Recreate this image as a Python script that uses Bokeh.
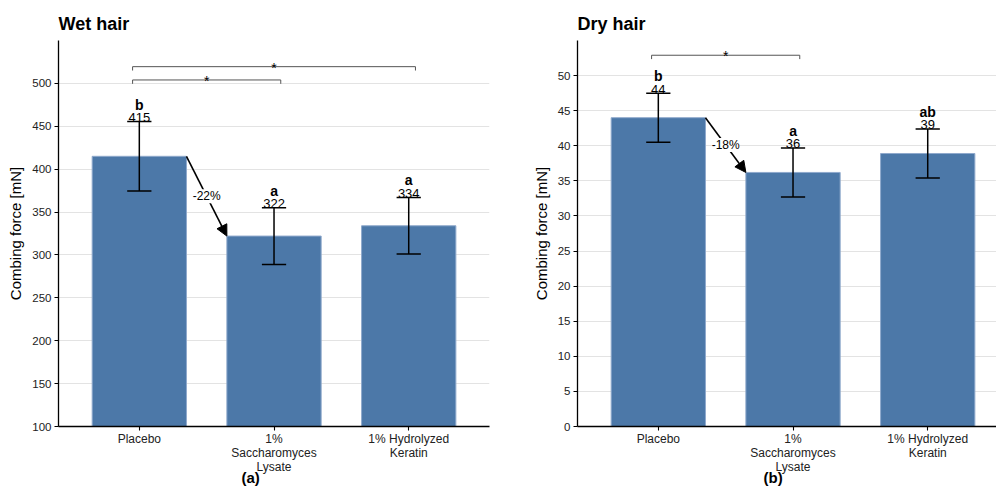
from bokeh.plotting import figure
from bokeh.layouts import row
from bokeh.models import ColumnDataSource, FixedTicker, Range1d, Label, Arrow, NormalHead, Title
from bokeh.core.properties import value
from bokeh.embed import file_html
from bokeh.resources import INLINE

# ---------------- data ----------------
categories = ["Placebo", "1% Saccharomyces Lysate", "1% Hydrolyzed Keratin"]
tick_labels = ["Placebo", "1%\nSaccharomyces\nLysate", "1% Hydrolyzed\nKeratin"]

wet_mean = [415, 322, 334]
wet_err = [40.5, 33, 33]
wet_letters = ["b", "a", "a"]
wet_sig_pairs = [(0, 1), (0, 2)]
wet_sig_y = [504, 519.5]
wet_sig_text = ["*", "*"]
wet_yticks = [100, 150, 200, 250, 300, 350, 400, 450, 500]
wet_yrange = (100, 550)

dry_mean = [44.0, 36.2, 38.9]
dry_err = [3.5, 3.5, 3.5]
dry_letters = ["b", "a", "ab"]
dry_sig_pairs = [(0, 1)]
dry_sig_y = [52.9]
dry_sig_text = ["*"]
dry_yticks = [0, 5, 10, 15, 20, 25, 30, 35, 40, 45, 50]
dry_yrange = (0, 55)

FONT = "Liberation Sans"
BAR = "#4C78A8"
PX_PER_UNIT = 134.7
H = 486


def panel(title, caption, mean, err, letters, sig_pairs, sig_y, sig_text,
          yr, yticks, W, mbl, mbr, cap_off):
    n = len(mean)
    xs = [i + 1 for i in range(n)]
    frame_w = W - mbl - mbr
    x_end = 0.4 + frame_w / PX_PER_UNIT
    p = figure(width=W, height=H, x_range=Range1d(0.4, x_end), y_range=Range1d(*yr),
               output_backend="svg", toolbar_location=None,
               min_border_left=mbl, min_border_right=mbr,
               min_border_top=40, min_border_bottom=60)
    p.outline_line_color = None
    p.background_fill_color = "white"
    p.border_fill_color = "white"

    p.title.text = title
    p.title.text_font = FONT
    p.title.text_font_size = "18px"
    p.title.text_font_style = "bold"
    p.title.text_color = "black"
    p.title.align = "left"
    p.title.standoff = 14

    src = ColumnDataSource(dict(
        x=xs, mean=mean,
        lower=[m - e for m, e in zip(mean, err)],
        upper=[m + e for m, e in zip(mean, err)],
        cl=[x - 0.09 for x in xs], cr=[x + 0.09 for x in xs],
        vlab=[f"{round(m)}" for m in mean],
        letter=letters,
    ))
    p.vbar(x="x", top="mean", bottom=0, width=0.7, source=src,
           fill_color=BAR, line_color="#8FA9CC", line_width=1)
    p.segment(x0="x", y0="lower", x1="x", y1="upper", source=src,
              line_color="black", line_width=1.5)
    p.segment(x0="cl", y0="upper", x1="cr", y1="upper", source=src,
              line_color="black", line_width=1.5)
    p.segment(x0="cl", y0="lower", x1="cr", y1="lower", source=src,
              line_color="black", line_width=1.5)
    p.text(x="x", y="upper", text="vlab", source=src, text_align="center",
           text_baseline="alphabetic", y_offset=-4, text_font=value(FONT),
           text_font_size="13px", text_color="black")
    p.text(x="x", y="upper", text="letter", source=src, text_align="center",
           text_baseline="alphabetic", y_offset=-17, text_font=value(FONT),
           text_font_size="14px", text_font_style="bold", text_color="black")

    # significance brackets
    tip = 0.01 * (yr[1] - yr[0])
    bx0, bx1, by, tx, tt = [], [], [], [], []
    for (i, j), yv, s in zip(sig_pairs, sig_y, sig_text):
        bx0.append(xs[i] - 0.05)
        bx1.append(xs[j] + 0.05)
        by.append(yv)
        tx.append((xs[i] + xs[j]) / 2)
        tt.append(s)
    bsrc = ColumnDataSource(dict(x0=bx0, x1=bx1, y=by, ylo=[v - tip for v in by], tx=tx, tt=tt))
    p.segment(x0="x0", y0="y", x1="x1", y1="y", source=bsrc, line_color="#555555", line_width=1)
    p.segment(x0="x0", y0="y", x1="x0", y1="ylo", source=bsrc, line_color="#555555", line_width=1)
    p.segment(x0="x1", y0="y", x1="x1", y1="ylo", source=bsrc, line_color="#555555", line_width=1)
    p.text(x="tx", y="y", text="tt", source=bsrc, text_align="center",
           text_baseline="alphabetic", y_offset=1, text_font=value(FONT),
           text_font_size="14px", text_color="black")

    # reduction arrow placebo -> saccharomyces
    xs0, ys0 = xs[0] + 0.35, mean[0]
    xe, ye = xs[1] - 0.35, mean[1]
    p.add_layout(Arrow(x_start=xs0, y_start=ys0, x_end=xe, y_end=ye,
                       line_color="black", line_width=1.6,
                       end=NormalHead(size=11, fill_color="black", line_color="black")))
    pct = round((mean[1] - mean[0]) / mean[0] * 100)
    p.add_layout(Label(x=(xs0 + xe) / 2, y=(ys0 + ye) / 2, text=f"{pct}%",
                       text_align="center", text_baseline="middle",
                       text_font=FONT, text_font_size="12px", text_color="black",
                       background_fill_color="white", background_fill_alpha=1.0))

    # axes
    p.xgrid.visible = False
    p.ygrid.ticker = FixedTicker(ticks=yticks)
    p.ygrid.grid_line_color = "#E3E3E3"
    p.ygrid.grid_line_width = 1

    p.yaxis.ticker = FixedTicker(ticks=yticks)
    p.xaxis.ticker = FixedTicker(ticks=xs)
    p.xaxis.major_label_overrides = {x: lab for x, lab in zip(xs, tick_labels)}
    for ax in (p.xaxis[0], p.yaxis[0]):
        ax.axis_line_color = "black"
        ax.axis_line_width = 1.3
        ax.major_tick_line_color = "black"
        ax.major_tick_line_width = 1.1
        ax.major_tick_in = 0
        ax.major_tick_out = 4
        ax.minor_tick_line_color = None
        ax.major_label_text_font = FONT
        ax.major_label_text_color = "#222222"
    p.yaxis.major_label_text_font_size = "11.5px"
    p.yaxis.major_label_standoff = 3
    p.xaxis.major_label_text_font_size = "12px"
    p.xaxis.major_label_text_line_height = 1.0
    p.xaxis.major_label_standoff = 1
    p.yaxis.axis_label = "Combing force [mN]"
    p.yaxis.axis_label_text_font = FONT
    p.yaxis.axis_label_text_font_size = "15px"
    p.yaxis.axis_label_text_font_style = "normal"
    p.yaxis.axis_label_text_color = "black"
    p.yaxis.axis_label_standoff = 5

    p.add_layout(Title(text=caption, align="left", offset=cap_off, standoff=-19,
                       text_font=FONT, text_font_size="15px", text_font_style="bold",
                       text_color="black"), "below")
    return p


left = panel("Wet hair", "(a)", wet_mean, wet_err, wet_letters, wet_sig_pairs, wet_sig_y,
             wet_sig_text, wet_yrange, wet_yticks, 500, 58, 11, 183)
right = panel("Dry hair", "(b)", dry_mean, dry_err, dry_letters, dry_sig_pairs, dry_sig_y,
              dry_sig_text, dry_yrange, dry_yticks, 496, 77, 0, 186)

layout = row(left, right)
open("out.html", "w").write(file_html(layout, INLINE))
